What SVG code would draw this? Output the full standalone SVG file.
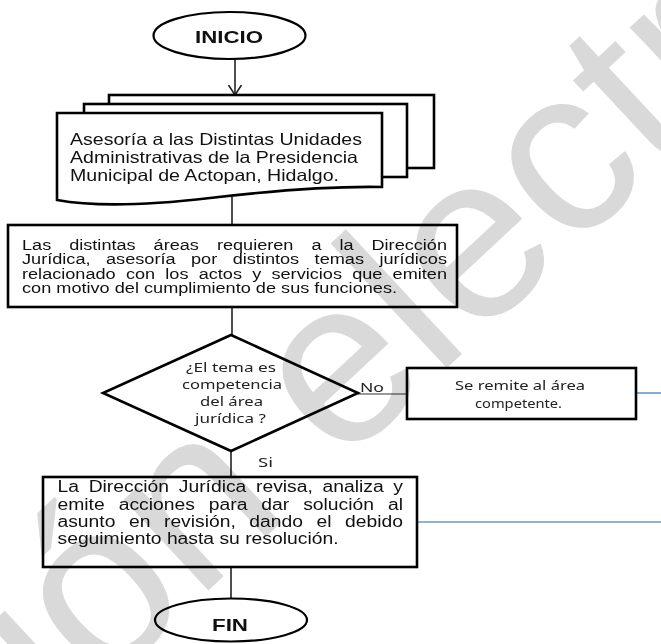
<svg xmlns="http://www.w3.org/2000/svg" width="661" height="644" viewBox="0 0 661 644">
<defs>
<style>
.box{fill:#fff;stroke:#000;stroke-width:2.6}
.term{fill:#fff;stroke:#000;stroke-width:2.2}
.t{font-family:"Liberation Sans",Arial,sans-serif;fill:#111}
.b{font-family:"Liberation Sans",Arial,sans-serif;font-weight:bold;font-size:17px;fill:#111}
.c{font-family:"Noto Sans","Open Sans",sans-serif;font-size:13px;fill:#222}
.ln{stroke:#222;stroke-width:1.6;fill:none}
.thin{stroke:#333;stroke-width:1.2;fill:none}
.blue{stroke:#5f8fcc;stroke-width:1.5;fill:none}
.blue2{stroke:#8fb1da;stroke-width:2;fill:none}
.wm{font-family:"Liberation Sans",Arial,sans-serif;fill:#d9d9d9;mix-blend-mode:multiply}
</style>
<marker id="arr" markerUnits="userSpaceOnUse" markerWidth="12" markerHeight="15" refX="10" refY="6.5" orient="auto">
<path d="M0,0 L10,6.5 L0,13" fill="none" stroke="#222" stroke-width="1.6"/>
</marker>
</defs>
<rect width="661" height="644" fill="#fff"/>

<g id="connectors">
<line class="ln" x1="235" y1="59" x2="235" y2="95" marker-end="url(#arr)"/>
<line class="ln" x1="232" y1="197" x2="232" y2="225"/>
<line class="ln" x1="232" y1="307" x2="232" y2="335"/>
<line class="thin" x1="358" y1="394" x2="407" y2="394"/>
<line class="ln" x1="231" y1="451" x2="231" y2="477"/>
<line class="ln" x1="231" y1="567" x2="231" y2="599"/>
<line class="blue" x1="636" y1="393" x2="661" y2="393"/>
<line class="blue2" x1="417" y1="522" x2="661" y2="522"/>
<text class="c" x="360" y="392" textLength="24" lengthAdjust="spacingAndGlyphs">No</text>
<text class="c" x="258" y="467" textLength="15" lengthAdjust="spacingAndGlyphs">Si</text>
</g>

<g id="inicio">
<ellipse class="term" cx="229.5" cy="35.5" rx="76" ry="23.5"/>
<text class="b" x="195" y="43" textLength="68" lengthAdjust="spacingAndGlyphs">INICIO</text>
</g>

<g id="asesoria">
<rect class="box" x="109" y="95" width="325" height="73"/>
<rect class="box" x="84" y="104" width="323" height="73"/>
<path class="box" d="M57,113 H382 V187 C330,186 270,191 210,198 C150,205 95,207 57,200 Z"/>
<text class="t" font-size="16.5" x="70" y="145" textLength="292" lengthAdjust="spacingAndGlyphs">Asesoría a las Distintas Unidades</text>
<text class="t" font-size="16.5" x="70" y="163" textLength="288" lengthAdjust="spacingAndGlyphs">Administrativas de la Presidencia</text>
<text class="t" font-size="16.5" x="70" y="181" textLength="269" lengthAdjust="spacingAndGlyphs">Municipal de Actopan, Hidalgo.</text>
</g>

<g id="areas">
<rect class="box" x="8" y="225" width="449" height="82"/>
<text class="t" font-size="14" x="22" y="249.5" word-spacing="10" textLength="425" lengthAdjust="spacingAndGlyphs">Las distintas áreas requieren a la Dirección</text>
<text class="t" font-size="14" x="22" y="264" word-spacing="8" textLength="425" lengthAdjust="spacingAndGlyphs">Jurídica, asesoría por distintos temas jurídicos</text>
<text class="t" font-size="14" x="22" y="278.5" word-spacing="4" textLength="425" lengthAdjust="spacingAndGlyphs">relacionado con los actos y servicios que emiten</text>
<text class="t" font-size="14" x="22" y="293" textLength="375" lengthAdjust="spacingAndGlyphs">con motivo del cumplimiento de sus funciones.</text>
</g>

<g id="decision">
<polygon class="box" points="231,335 358,393 231,451 103,393"/>
<text class="c" x="186" y="372" textLength="90" lengthAdjust="spacingAndGlyphs">¿El tema es</text>
<text class="c" x="182" y="389" textLength="100" lengthAdjust="spacingAndGlyphs">competencia</text>
<text class="c" x="200" y="406" textLength="63" lengthAdjust="spacingAndGlyphs">del área</text>
<text class="c" x="195" y="423" textLength="71" lengthAdjust="spacingAndGlyphs">jurídica ?</text>
</g>

<g id="remite">
<rect class="box" x="407" y="368" width="229" height="51"/>
<text class="c" x="455" y="390" textLength="130" lengthAdjust="spacingAndGlyphs">Se remite al área</text>
<text class="c" x="475" y="408" textLength="87" lengthAdjust="spacingAndGlyphs">competente.</text>
</g>

<g id="revisa">
<rect class="box" x="43" y="477" width="374" height="90"/>
<text class="t" font-size="16" x="57.5" y="492" word-spacing="3.6" textLength="345.5" lengthAdjust="spacingAndGlyphs">La Dirección Jurídica revisa, analiza y</text>
<text class="t" font-size="16" x="57.5" y="509.5" word-spacing="7.1" textLength="345.5" lengthAdjust="spacingAndGlyphs">emite acciones para dar solución al</text>
<text class="t" font-size="16" x="57.5" y="527" word-spacing="6.8" textLength="345.5" lengthAdjust="spacingAndGlyphs">asunto en revisión, dando el debido</text>
<text class="t" font-size="16" x="57.5" y="544" textLength="281" lengthAdjust="spacingAndGlyphs">seguimiento hasta su resolución.</text>
</g>

<g id="fin">
<ellipse class="term" cx="231" cy="620" rx="76" ry="21.5"/>
<text class="b" x="212" y="631" textLength="36" lengthAdjust="spacingAndGlyphs">FIN</text>
</g>

<text class="wm" font-size="235" transform="translate(72,717.5) rotate(-43)" x="-483" y="0">Versión electrónica</text>
</svg>
